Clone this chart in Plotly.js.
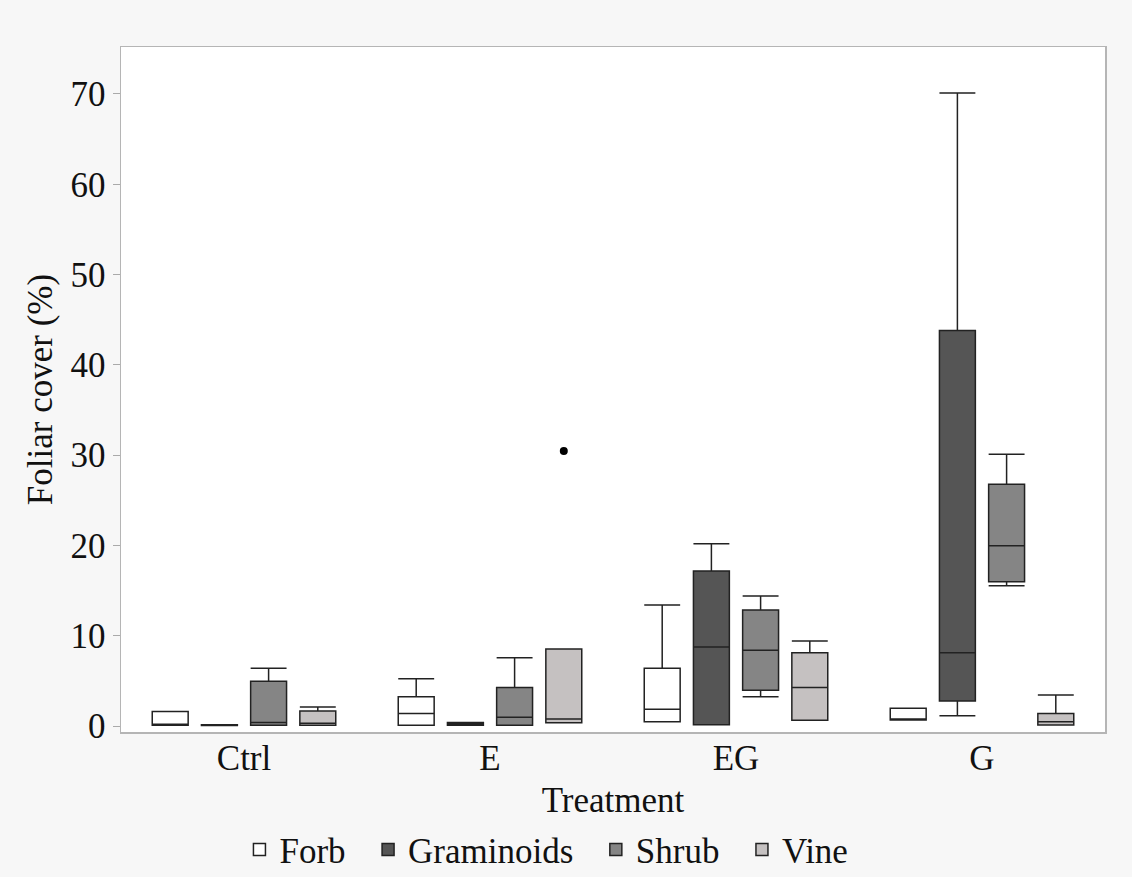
<!DOCTYPE html>
<html>
<head>
<meta charset="utf-8">
<script src="https://cdn.plot.ly/plotly-3.0.1.min.js"></script>
<style>html,body{margin:0;padding:0;background:#f7f7f7;}#chart{width:1132px;height:877px;}</style>
</head>
<body>
<div id="chart"></div>
<script>
var categories = ['Ctrl', 'E', 'EG', 'G'];

var forbLow = [0.1, 0.1, 0.48, 0.66];
var forbQ1 = [0.1, 0.1, 0.48, 0.66];
var forbMedian = [0.2, 1.4, 1.85, 0.75];
var forbQ3 = [1.6, 3.25, 6.39, 1.96];
var forbHigh = [1.6, 5.24, 13.4, 1.96];

var gramLow = [0.05, 0.1, 0.15, 1.14];
var gramQ1 = [0.05, 0.1, 0.15, 2.77];
var gramMedian = [0.1, 0.25, 8.75, 8.12];
var gramQ3 = [0.15, 0.4, 17.17, 43.8];
var gramHigh = [0.15, 0.4, 20.19, 70.1];

var shrubLow = [0.1, 0.1, 3.25, 15.54];
var shrubQ1 = [0.1, 0.1, 3.95, 15.98];
var shrubMedian = [0.4, 0.96, 8.38, 19.97];
var shrubQ3 = [4.95, 4.28, 12.85, 26.77];
var shrubHigh = [6.4, 7.57, 14.4, 30.1];

var vineLow = [0.1, 0.36, 0.63, 0.11];
var vineQ1 = [0.1, 0.36, 0.63, 0.11];
var vineMedian = [0.3, 0.78, 4.28, 0.48];
var vineQ3 = [1.66, 8.53, 8.12, 1.4];
var vineHigh = [2.1, 8.53, 9.41, 3.43];

var vineOutlierCategory = ['E'];
var vineOutlierValue = [30.45];

var pad = '\u2002';

function mk(name, lo, q1, med, q3, hi, fill) {
  return {
    type: 'box', name: name + pad, x: categories, offsetgroup: name,
    lowerfence: lo, q1: q1, median: med, q3: q3, upperfence: hi,
    fillcolor: fill, line: {color: '#222', width: 1.5},
    whiskerwidth: 1, boxpoints: false,
    hoverinfo: 'y'
  };
}

var data = [
  mk('Forb', forbLow, forbQ1, forbMedian, forbQ3, forbHigh, '#ffffff'),
  mk('Graminoids', gramLow, gramQ1, gramMedian, gramQ3, gramHigh, '#555555'),
  mk('Shrub', shrubLow, shrubQ1, shrubMedian, shrubQ3, shrubHigh, '#858585'),
  mk('Vine', vineLow, vineQ1, vineMedian, vineQ3, vineHigh, '#c5c1c1'),
  {
    type: 'box', name: 'Vine outlier', x: vineOutlierCategory, y: vineOutlierValue,
    offsetgroup: 'Vine', showlegend: false,
    boxpoints: 'all', jitter: 0, pointpos: 0,
    fillcolor: 'rgba(0,0,0,0)', line: {color: 'rgba(0,0,0,0)', width: 0},
    marker: {color: '#000', size: 8}, hoverinfo: 'y'
  }
];

var fontFam = '"Liberation Serif", "Times New Roman", serif';
var layout = {
  width: 1132, height: 877,
  paper_bgcolor: '#f7f7f7', plot_bgcolor: '#ffffff',
  margin: {l: 121, r: 27, t: 47, b: 145},
  font: {family: fontFam, size: 35, color: '#111'},
  boxmode: 'group', boxgap: 0.2, boxgroupgap: 0.27,
  xaxis: {
    type: 'category', showgrid: false, zeroline: false,
    showline: true, linecolor: '#b5b5b5', linewidth: 1.5, mirror: true,
    ticks: '', tickfont: {size: 35}, automargin: false, ticklabelstandoff: -6,
    title: {text: 'Treatment', font: {size: 35}, standoff: 14}
  },
  yaxis: {
    range: [-0.66, 75.2], dtick: 10, showgrid: false, zeroline: false,
    showline: true, linecolor: '#b5b5b5', linewidth: 1.5, mirror: true,
    ticks: 'outside', ticklen: 7, tickcolor: '#aaaaaa', tickfont: {size: 35},
    automargin: false,
    title: {text: 'Foliar cover (%)', font: {size: 35}, standoff: 7}
  },
  legend: {
    orientation: 'h', x: 0.441, xanchor: 'center',
    yref: 'container', y: 0.031, yanchor: 'middle',
    font: {size: 35}, bgcolor: 'rgba(0,0,0,0)'
  },
  showlegend: true
};

Plotly.newPlot('chart', data, layout, {displayModeBar: false, staticPlot: true});
</script>
</body>
</html>
